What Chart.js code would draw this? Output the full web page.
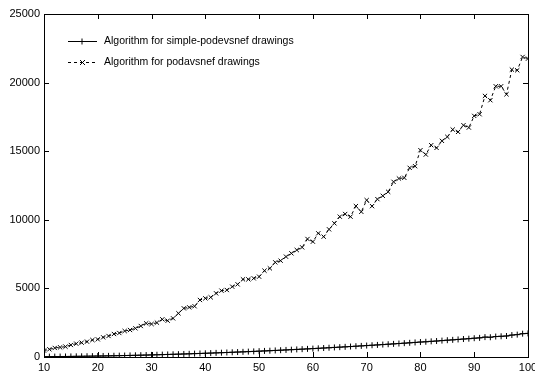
<!DOCTYPE html>
<html>
<head>
<meta charset="utf-8">
<script src="https://cdn.jsdelivr.net/npm/chart.js"></script>
<style>
  html, body { margin: 0; padding: 0; background: #fff; }
  #wrap { width: 535px; height: 375px; }
</style>
</head>
<body>
<div id="wrap"><canvas id="chart"></canvas></div>
<script>
// problem sizes 10..100
const sizes = [10, 11, 12, 13, 14, 15, 16, 17, 18, 19, 20, 21, 22, 23, 24, 25, 26, 27, 28, 29,
    30, 31, 32, 33, 34, 35, 36, 37, 38, 39, 40, 41, 42, 43, 44, 45, 46, 47, 48, 49,
    50, 51, 52, 53, 54, 55, 56, 57, 58, 59, 60, 61, 62, 63, 64, 65, 66, 67, 68, 69,
    70, 71, 72, 73, 74, 75, 76, 77, 78, 79, 80, 81, 82, 83, 84, 85, 86, 87, 88, 89,
    90, 91, 92, 93, 94, 95, 96, 97, 98, 99, 100];

const simpleTimes = [20, 25, 30, 32, 38, 42, 48, 52, 58, 63, 70, 76, 83, 90, 98, 106, 115, 124, 133, 142,
    152, 163, 174, 185, 196, 208, 220, 232, 245, 258, 272, 285, 300, 314, 329, 344, 360, 375, 392, 408,
    425, 442, 460, 478, 496, 515, 533, 553, 572, 592, 612, 633, 654, 675, 697, 718, 740, 763, 786, 809,
    833, 857, 881, 906, 931, 956, 982, 1008, 1034, 1061, 1090, 1110, 1140, 1165, 1195, 1225, 1250, 1280, 1310, 1335,
    1370, 1395, 1450, 1440, 1490, 1510, 1530, 1600, 1630, 1700, 1720];

const podavsnefTimes = [470, 560, 660, 704, 753, 875, 972, 1045, 1118, 1239, 1288, 1434, 1531, 1676, 1749, 1895, 1968, 2090, 2260, 2454,
    2405, 2502, 2745, 2648, 2818, 3183, 3547, 3620, 3700, 4155, 4275, 4349, 4640, 4835, 4883, 5126, 5296, 5661, 5661, 5733,
    5855, 6292, 6462, 6900, 7021, 7313, 7556, 7799, 7993, 8601, 8406, 9014, 8771, 9305, 9742, 10228, 10422, 10228, 11000, 10583,
    11433, 10996, 11506, 11748, 12039, 12767, 13010, 13059, 13787, 13908, 15073, 14758, 15437, 15243, 15753, 16044, 16578, 16408, 16893, 16724,
    17573, 17694, 19029, 18714, 19733, 19733, 19150, 20947, 20898, 21869, 21747];

const xTicks = [10, 20, 30, 40, 50, 60, 70, 80, 90, 100];
const yTicks = [0, 5000, 10000, 15000, 20000, 25000];

const legendLabels = ['Algorithm for simple-podevsnef drawings', 'Algorithm for podavsnef drawings'];

const FONT = "'Liberation Sans', Arial, Helvetica, sans-serif";

// gnuplot-like frame with inward ticks and a legend with line samples
const framePlugin = {
    id: 'frame',
    afterDraw(chart) {
        const ctx = chart.ctx;
        const a = chart.chartArea;
        const xs = chart.scales.x, ys = chart.scales.y;
        ctx.save();
        ctx.strokeStyle = '#000';
        ctx.lineWidth = 1;
        ctx.strokeRect(a.left + 0.5, a.top + 0.5, a.right - a.left, a.bottom - a.top);
        ctx.beginPath();
        xTicks.forEach(v => {
            const px = Math.round(xs.getPixelForValue(v)) + 0.5;
            ctx.moveTo(px, a.bottom); ctx.lineTo(px, a.bottom - 5);
            ctx.moveTo(px, a.top); ctx.lineTo(px, a.top + 5);
        });
        yTicks.forEach(v => {
            const py = Math.round(ys.getPixelForValue(v)) + 0.5;
            ctx.moveTo(a.left, py); ctx.lineTo(a.left + 5, py);
            ctx.moveTo(a.right, py); ctx.lineTo(a.right - 5, py);
        });
        ctx.stroke();

        // legend
        ctx.font = '10.5px ' + FONT;
        ctx.fillStyle = '#000';
        ctx.textBaseline = 'middle';
        const rows = [{ y: 41.5, dash: [], style: 'plus' }, { y: 62.5, dash: [3, 3], style: 'x' }];
        rows.forEach((r, i) => {
            ctx.setLineDash(r.dash);
            ctx.beginPath();
            ctx.moveTo(68, r.y); ctx.lineTo(97, r.y);
            ctx.stroke();
            ctx.setLineDash([]);
            ctx.beginPath();
            if (r.style === 'plus') {
                ctx.moveTo(79, r.y); ctx.lineTo(85, r.y);
                ctx.moveTo(82, r.y - 3); ctx.lineTo(82, r.y + 3);
            } else {
                ctx.moveTo(80, r.y - 2.5); ctx.lineTo(85, r.y + 2.5);
                ctx.moveTo(80, r.y + 2.5); ctx.lineTo(85, r.y - 2.5);
            }
            ctx.stroke();
            ctx.fillText(legendLabels[i], 104, r.y);
        });
        ctx.restore();
    }
};

new Chart(document.getElementById('chart'), {
    type: 'line',
    data: {
        labels: sizes,
        datasets: [
            {
                label: legendLabels[0],
                data: sizes.map((s, i) => ({ x: s, y: simpleTimes[i] })),
                borderColor: '#000',
                borderWidth: 1,
                pointStyle: 'cross',
                pointRadius: 3,
                pointBorderColor: '#000',
                pointBorderWidth: 1,
                tension: 0
            },
            {
                label: legendLabels[1],
                data: sizes.map((s, i) => ({ x: s, y: podavsnefTimes[i] })),
                borderColor: '#000',
                borderWidth: 1,
                borderDash: [3, 3],
                pointStyle: 'crossRot',
                pointRadius: 3,
                pointBorderColor: '#000',
                pointBorderWidth: 1,
                tension: 0
            }
        ]
    },
    options: {
        responsive: true,
        maintainAspectRatio: false,
        animation: false,
        layout: { autoPadding: false, padding: { top: 14, right: 0, left: 0, bottom: 0 } },
        plugins: {
            legend: { display: false },
            tooltip: { enabled: false }
        },
        scales: {
            x: {
                type: 'linear',
                min: 10,
                max: 100,
                afterFit: s => { s.height = 18; s.paddingRight = 7; },
                afterBuildTicks: s => { s.ticks = xTicks.map(v => ({ value: v })); },
                grid: { display: false, drawTicks: false },
                border: { display: false },
                ticks: { color: '#000', font: { family: FONT, size: 11 }, padding: 4, maxRotation: 0,
                    callback: v => String(v) }
            },
            y: {
                type: 'linear',
                min: 0,
                max: 25000,
                afterFit: s => { s.width = 44; },
                afterBuildTicks: s => { s.ticks = yTicks.map(v => ({ value: v })); },
                grid: { display: false, drawTicks: false },
                border: { display: false },
                ticks: { color: '#000', font: { family: FONT, size: 11 }, padding: 4,
                    callback: v => String(v) }
            }
        }
    },
    plugins: [framePlugin]
});
</script>
</body>
</html>
